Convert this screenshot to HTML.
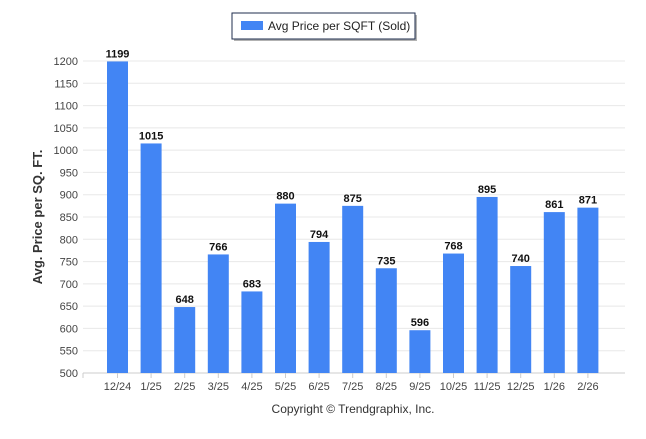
<!DOCTYPE html>
<html><head><meta charset="utf-8"><style>
body{margin:0;background:#fff;font-family:"Liberation Sans",Arial,sans-serif}
</style></head><body>
<svg width="646" height="434" xmlns="http://www.w3.org/2000/svg">
<g>
<rect x="234" y="15" width="183" height="26" fill="#666" opacity="0.5"/>
<rect x="232" y="13" width="183" height="26" fill="#fff" stroke="#1f2d4d" stroke-width="1"/>
<rect x="241" y="21" width="22" height="9" fill="#4285f4"/>
<text x="268" y="30" font-size="12" fill="#222">Avg Price per SQFT (Sold)</text>
</g>
<g id="grid"></g><g id="bars"></g><g id="xl"></g>
<text transform="translate(42,217) rotate(-90)" text-anchor="middle" font-size="13" font-weight="bold" fill="#333">Avg. Price per SQ. FT.</text>
<text x="353" y="413" text-anchor="middle" font-size="12" fill="#333">Copyright © Trendgraphix, Inc.</text>
</svg>
<script>
const categories=["12/24","1/25","2/25","3/25","4/25","5/25","6/25","7/25","8/25","9/25","10/25","11/25","12/25","1/26","2/26"];
const values=[1199,1015,648,766,683,880,794,875,735,596,768,895,740,861,871];
const yTicks=[500,550,600,650,700,750,800,850,900,950,1000,1050,1100,1150,1200];
const NS="http://www.w3.org/2000/svg";
const y=v=>373-(v-500)*(312/700);
const x=i=>117.5+i*33.6;
function mk(t,a,p){const e=document.createElementNS(NS,t);for(const k in a)e.setAttribute(k,a[k]);p.appendChild(e);return e;}
const g=document.getElementById('grid'),b=document.getElementById('bars'),xl=document.getElementById('xl');
yTicks.forEach(v=>{
 const l=mk('line',{x1:83,x2:625,y1:y(v),y2:y(v),stroke:v===500?'#ccc':'#e8e8e8'},g);
 
 
 const t=mk('text',{x:78,y:y(v)+4,'text-anchor':'end','font-size':'11',fill:'#444'},g);
 t.textContent=v;
 
 
});
mk('line',{x1:83,x2:83,y1:373,y2:378,stroke:'#ccc'},g);
categories.forEach((c,i)=>{
 const r=mk('rect',{x:x(i)-10.5,y:y(values[i]),width:21,height:373-y(values[i]),fill:'#4285f4'},b);
 
 
 const v=mk('text',{x:x(i),y:y(values[i])-4,'text-anchor':'middle','font-size':'11','font-weight':'bold',fill:'#111'},b);
 v.textContent=values[i];
 
 
 mk('line',{x1:x(i),x2:x(i),y1:373,y2:378,stroke:'#ccc'},xl);
 const t=mk('text',{x:x(i),y:390,'text-anchor':'middle','font-size':'11',fill:'#444'},xl);
 t.textContent=c;
 
 
});
</script>
</body></html>
